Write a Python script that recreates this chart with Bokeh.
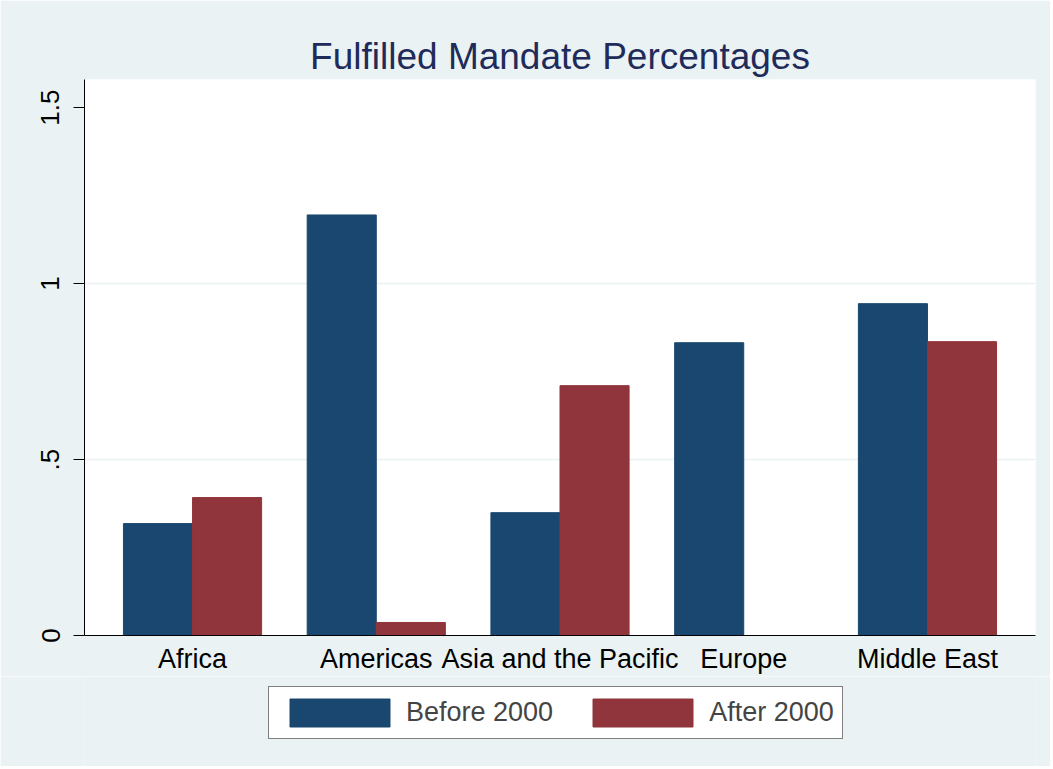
from bokeh.plotting import figure
from bokeh.layouts import column
from bokeh.models import (FactorRange, FixedTicker, Legend, LegendItem,
                          ColumnDataSource)
from bokeh.transform import dodge
from bokeh.embed import file_html
from bokeh.resources import INLINE

regions = ["Africa", "Americas", "Asia and the Pacific", "Europe", "Middle East"]
before_2000 = [0.318, 1.195, 0.349, 0.832, 0.943]
after_2000 = [0.392, 0.037, 0.710, 0.0, 0.835]
y_ticks = [0, 0.5, 1, 1.5]
y_tick_labels = ["0", ".5", "1", "1.5"]
title_text = "Fulfilled Mandate Percentages"
series_names = ["Before 2000", "After 2000"]

BG = "#eaf2f3"
BLUE = "#1a476f"
RED = "#90353b"
FONT = "Liberation Sans"
W = 1050

src = ColumnDataSource(dict(region=regions, before=before_2000, after=after_2000))

p = figure(x_range=FactorRange(*regions, range_padding=0.0352),
           y_range=(0, 1.58), width=W, height=676,
           output_backend="svg", toolbar_location=None,
           min_border_left=84, min_border_right=15,
           min_border_top=79, min_border_bottom=41)
p.background_fill_color = "white"
p.border_fill_color = BG
p.outline_line_color = None

p.title.text = title_text
p.title.align = "center"
p.title.text_font = FONT
p.title.text_font_size = "37px"
p.title.text_font_style = "normal"
p.title.text_color = "#1f2b5a"
p.title.standoff = 6

bw = 0.376
p.vbar(x=dodge("region", -bw / 2, range=p.x_range), top="before", width=bw,
       source=src, fill_color=BLUE, line_color=BLUE)
p.vbar(x=dodge("region", bw / 2, range=p.x_range), top="after", width=bw,
       source=src, fill_color=RED, line_color=RED)

# axes
p.xaxis.major_tick_line_color = None
p.xaxis.minor_tick_line_color = None
p.xaxis.major_label_text_font = FONT
p.xaxis.major_label_text_font_size = "27px"
p.xaxis.major_label_text_color = "black"
p.xaxis.major_label_standoff = 2
p.xaxis.axis_line_color = "black"

p.yaxis.ticker = FixedTicker(ticks=y_ticks)
p.yaxis.major_label_overrides = {t: l for t, l in zip(y_ticks, y_tick_labels)}
p.yaxis.major_label_orientation = "vertical"
p.yaxis.major_label_text_font = FONT
p.yaxis.major_label_text_font_size = "26px"
p.yaxis.major_label_text_color = "black"
p.yaxis.major_tick_out = 11
p.yaxis.major_tick_in = 0
p.yaxis.minor_tick_line_color = None
p.yaxis.major_label_standoff = 14
p.yaxis.axis_line_color = "black"

p.xgrid.grid_line_color = None
p.ygrid.ticker = FixedTicker(ticks=[0.5, 1.0])
p.ygrid.grid_line_color = BG
p.ygrid.grid_line_width = 1.5

# legend strip below the chart (frame aligned with the chart's frame)
lg = figure(width=W, height=90, x_range=(0, 1), y_range=(0, 1),
            x_axis_type=None, y_axis_type=None,
            output_backend="svg", toolbar_location=None,
            min_border_left=84, min_border_right=15,
            min_border_top=0, min_border_bottom=0)
lg.background_fill_color = BG
lg.border_fill_color = BG
lg.outline_line_color = None
# keys: swatch renderers placed outside the visible range
keys = ColumnDataSource(dict(x=[-5.0], top=[-5.0]))
k1 = lg.vbar(x="x", top="top", width=0.1, source=keys,
             fill_color=BLUE, line_color=BLUE)
k2 = lg.vbar(x="x", top="top", width=0.1, source=keys,
             fill_color=RED, line_color=RED)

legend = Legend(items=[LegendItem(label=series_names[0], renderers=[k1]),
                       LegendItem(label=series_names[1], renderers=[k2])],
                orientation="horizontal", location=(184, 27))
legend.glyph_width = 125
legend.glyph_height = 35
legend.label_text_font = FONT
legend.label_text_font_size = "27px"
legend.label_standoff = 4
legend.spacing = 27
legend.padding = 8
legend.margin = 0
legend.border_line_color = "black"
legend.border_line_width = 1
legend.background_fill_color = "white"
legend.background_fill_alpha = 1
lg.add_layout(legend, "center")

layout = column(p, lg, spacing=0)
open("out.html", "w").write(file_html(layout, INLINE))
